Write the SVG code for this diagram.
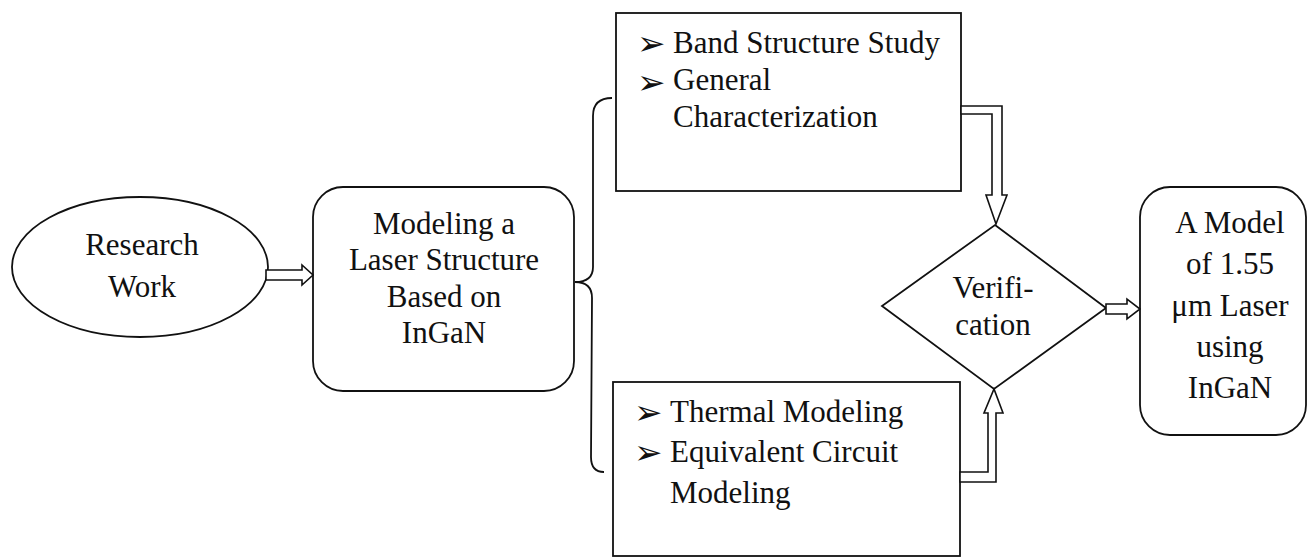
<svg xmlns="http://www.w3.org/2000/svg" width="1309" height="560" viewBox="0 0 1309 560">
<style>
.shape{fill:#fff;stroke:#111;stroke-width:1.8}
.t{font-family:"Liberation Serif","Times New Roman",serif;font-size:31px;fill:#111}
.c{text-anchor:middle}
.b{font-family:"DejaVu Sans",sans-serif;font-size:34px;fill:#111}
.conn{fill:#fff;stroke:#111;stroke-width:1.6;stroke-linejoin:miter}
.brace{fill:none;stroke:#111;stroke-width:1.8}
</style>
<rect width="1309" height="560" fill="#fff"/>
<g id="research">
<ellipse class="shape" cx="140" cy="267" rx="128" ry="70"/>
<text class="t c" x="142" y="255">Research</text>
<text class="t c" x="142" y="297">Work</text>
</g>
<g id="modeling">
<rect class="shape" x="313" y="187" width="261" height="204" rx="30"/>
<text class="t c" x="444" y="234">Modeling a</text>
<text class="t c" x="444" y="270">Laser Structure</text>
<text class="t c" x="444" y="307">Based on</text>
<text class="t c" x="444" y="343">InGaN</text>
</g>
<g id="band">
<rect class="shape" x="616" y="13" width="345" height="178"/>
<text class="b" x="637" y="55">➢</text>
<text class="t" x="673" y="53">Band Structure Study</text>
<text class="b" x="637" y="94">➢</text>
<text class="t" x="673" y="90">General</text>
<text class="t" x="673" y="127">Characterization</text>
</g>
<g id="thermal">
<rect class="shape" x="613" y="382" width="347" height="174"/>
<text class="b" x="634" y="424">➢</text>
<text class="t" x="670" y="422">Thermal Modeling</text>
<text class="b" x="634" y="464">➢</text>
<text class="t" x="670" y="462">Equivalent Circuit</text>
<text class="t" x="670" y="503">Modeling</text>
</g>
<g id="verification">
<polygon class="shape" points="995,225 1106,308 994,389 882,306"/>
<text class="t c" x="993" y="298">Verifi-</text>
<text class="t c" x="993" y="335">cation</text>
</g>
<g id="model">
<rect class="shape" x="1140" y="187" width="166" height="248" rx="30"/>
<text class="t c" x="1230" y="233">A Model</text>
<text class="t c" x="1230" y="274">of 1.55</text>
<text class="t c" x="1230" y="316">μm Laser</text>
<text class="t c" x="1230" y="357">using</text>
<text class="t c" x="1230" y="398">InGaN</text>
</g>
<g id="connectors">
<path class="brace" d="M612 98 Q593 98 593 116 L593 267 Q593 282 575 282 Q592 282 592 298 L591 457 Q591 472 604 472"/>
<polygon class="conn" points="266,270 302,270 302,265 313,275 302,285 302,280 266,280"/>
<polygon class="conn" points="961,106 1002,106 1002,195 1007,195 996,224 986,195 992,195 992,114 961,114"/>
<polygon class="conn" points="960,482 996,482 996,413 1003,413 994,389 984,413 988,413 988,472 960,472"/>
<polygon class="conn" points="1106,304 1127,304 1127,299 1140,309 1127,319 1127,314 1106,314"/>
</g>
</svg>
